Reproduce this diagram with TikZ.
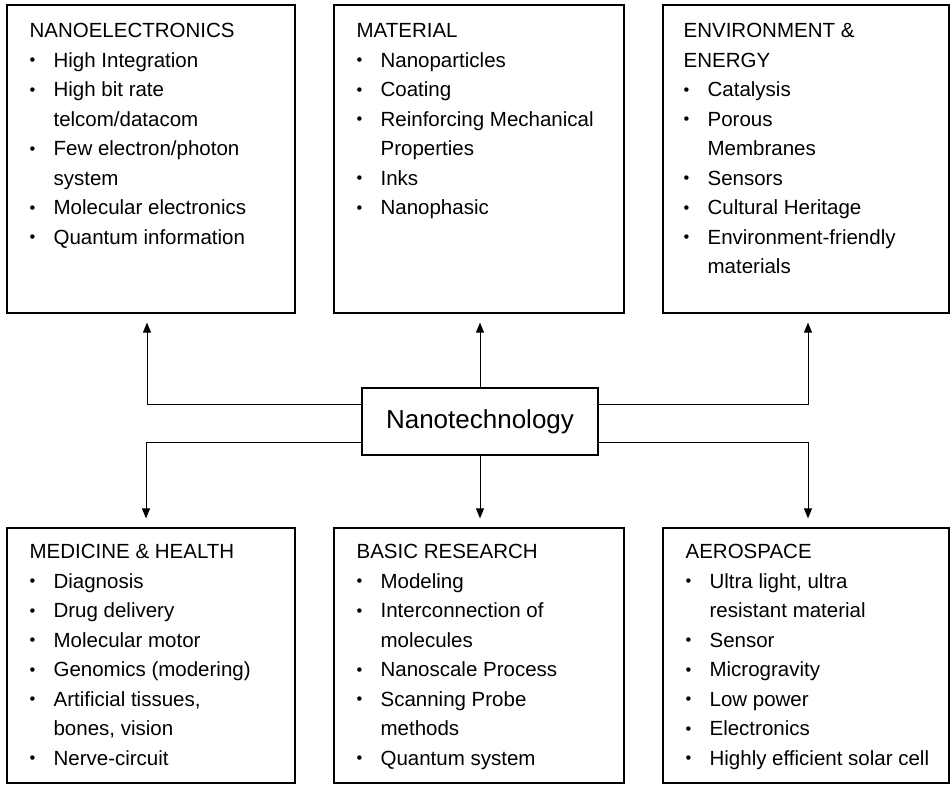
\documentclass[tikz,border=0pt]{standalone}
\usepackage{fontspec}
\setmainfont{Liberation Sans}
\usetikzlibrary{arrows.meta}

\tikzset{
	ramka/.style={draw, line width=1.2pt, inner sep=0pt},
	opis/.style={anchor=north west, align=left, inner sep=0pt, font=\fontsize{20.5}{29.5}\selectfont},
	strz/.style={line width=1pt, -{Triangle[length=10pt,width=8pt]}, shorten >=9pt}
}
\newcommand{\pkt}{\makebox[24pt][l]{\raisebox{1.5pt}{\scalebox{0.8}{\textbullet}}}}
\newcommand{\wc}{\hspace*{24pt}}

\begin{document}
\begin{tikzpicture}[x=1pt,y=-1pt]
	\useasboundingbox (0,0) rectangle (951,787);

	\node[ramka, minimum width=288pt, minimum height=308pt] (nano) at (151,159) {};
	\node[ramka, minimum width=290pt, minimum height=308pt] (mat) at (479,159) {};
	\node[ramka, minimum width=286pt, minimum height=308pt] (env) at (806,159) {};
	\node[ramka, minimum width=288pt, minimum height=255pt] (med) at (151,655.5) {};
	\node[ramka, minimum width=290pt, minimum height=255pt] (basic) at (479,655.5) {};
	\node[ramka, minimum width=286pt, minimum height=255pt] (aero) at (806,655.5) {};
	\node[ramka, minimum width=236pt, minimum height=67pt, font=\fontsize{26}{30}\selectfont] (tech) at (480,421.5) {Nanotechnology};

	\node[opis] (nanotxt) at ([xshift=23pt,yshift=-19pt]nano.north west) {NANOELECTRONICS\\
		\pkt High Integration\\ \pkt High bit rate\\ \wc telcom/datacom\\
		\pkt Few electron/photon\\ \wc system\\ \pkt Molecular electronics\\ \pkt Quantum information};
	\node[opis] (mattxt) at ([xshift=23pt,yshift=-19pt]mat.north west) {MATERIAL\\
		\pkt Nanoparticles\\ \pkt Coating\\ \pkt Reinforcing Mechanical\\ \wc Properties\\
		\pkt Inks\\ \pkt Nanophasic};
	\node[opis] (envtxt) at ([xshift=21pt,yshift=-19pt]env.north west) {ENVIRONMENT \&\\ ENERGY\\
		\pkt Catalysis\\ \pkt Porous\\ \wc Membranes\\ \pkt Sensors\\ \pkt Cultural Heritage\\
		\pkt Environment-friendly\\ \wc materials};
	\node[opis] (medtxt) at ([xshift=23pt,yshift=-17pt]med.north west) {MEDICINE \& HEALTH\\
		\pkt Diagnosis\\ \pkt Drug delivery\\ \pkt Molecular motor\\ \pkt Genomics (modering)\\
		\pkt Artificial tissues,\\ \wc bones, vision\\ \pkt Nerve-circuit};
	\node[opis] (basictxt) at ([xshift=23pt,yshift=-17pt]basic.north west) {BASIC RESEARCH\\
		\pkt Modeling\\ \pkt Interconnection of\\ \wc molecules\\ \pkt Nanoscale Process\\
		\pkt Scanning Probe\\ \wc methods\\ \pkt Quantum system};
	\node[opis] (aerotxt) at ([xshift=23pt,yshift=-17pt]aero.north west) {AEROSPACE\\
		\pkt Ultra light, ultra\\ \wc resistant material\\ \pkt Sensor\\ \pkt Microgravity\\
		\pkt Low power\\ \pkt Electronics\\ \pkt Highly efficient solar cell};

	% strzalki
	\draw[strz] ([yshift=17.5pt]tech.west) -| ([xshift=-4pt]nano.south);
	\draw[strz] ([yshift=-20.5pt]tech.west) -| ([xshift=-5pt]med.north);
	\draw[strz] ([yshift=17.5pt]tech.east) -| ([xshift=2pt]env.south);
	\draw[strz] ([yshift=-20.5pt]tech.east) -| ([xshift=2pt]aero.north);
	\draw[strz] (tech.north) -- (tech.north |- mat.south);
	\draw[strz] (tech.south) -- (tech.south |- basic.north);
\end{tikzpicture}
\end{document}
